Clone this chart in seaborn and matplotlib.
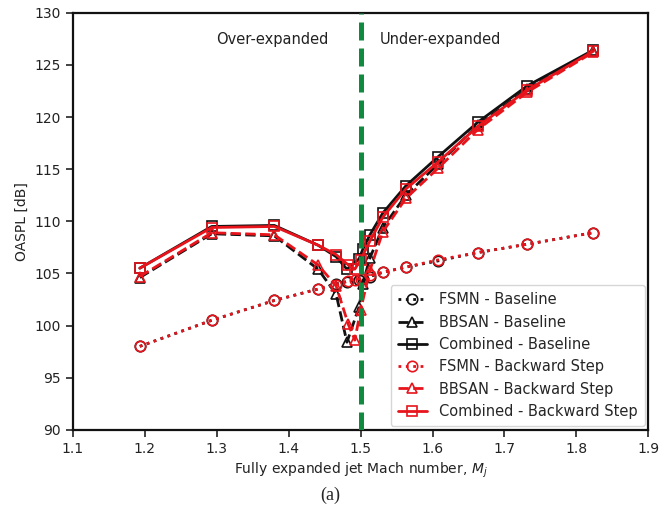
import matplotlib
matplotlib.use("Agg")
import matplotlib.pyplot as plt
import seaborn as sns
import pandas as pd

# ---- data ----
x_base = [1.193, 1.293, 1.380, 1.441, 1.466, 1.481, 1.498, 1.503, 1.513, 1.531, 1.563, 1.608, 1.663, 1.732, 1.823]
fsmn_base = [98.0, 100.5, 102.4, 103.5, 104.0, 104.2, 104.4, 104.5, 104.7, 105.1, 105.6, 106.2, 107.0, 107.8, 108.9]
bbsan_base = [104.6, 108.8, 108.6, 105.4, 103.0, 98.4, 101.8, 104.0, 106.5, 109.4, 112.5, 115.5, 119.2, 122.7, 126.3]
comb_base = [105.5, 109.5, 109.6, 107.7, 106.6, 105.4, 106.4, 107.3, 108.7, 110.8, 113.4, 116.2, 119.5, 123.0, 126.4]

x_bs = [1.193, 1.293, 1.380, 1.441, 1.466, 1.483, 1.492, 1.500, 1.513, 1.531, 1.563, 1.608, 1.663, 1.732, 1.823]
fsmn_bs = [98.0, 100.5, 102.4, 103.5, 103.9, 104.3, 104.4, 104.5, 104.8, 105.1, 105.6, 106.3, 107.0, 107.8, 108.9]
bbsan_bs = [104.7, 108.9, 108.7, 105.8, 103.8, 100.1, 98.6, 101.5, 105.3, 109.0, 112.2, 115.1, 118.8, 122.4, 126.2]
comb_bs = [105.5, 109.4, 109.5, 107.7, 106.8, 105.8, 105.4, 106.3, 108.1, 110.4, 113.1, 115.7, 119.1, 122.6, 126.3]

labels = ["FSMN - Baseline", "BBSAN - Baseline", "Combined - Baseline",
          "FSMN - Backward Step", "BBSAN - Backward Step", "Combined - Backward Step"]

sns.set_style("ticks")
plt.rcParams['font.family'] = ['DejaVu Sans']
plt.rcParams['axes.linewidth'] = 1.6
plt.rcParams['xtick.major.width'] = 1.2
plt.rcParams['ytick.major.width'] = 1.2
plt.rcParams['xtick.major.size'] = 5
plt.rcParams['ytick.major.size'] = 5
plt.rcParams['xtick.color'] = '#222222'
plt.rcParams['ytick.color'] = '#222222'
plt.rcParams['axes.edgecolor'] = '#111111'

fig = plt.figure(figsize=(6.69, 5.11), dpi=100)
ax = fig.add_axes([0.109, 0.159, 0.860, 0.816])

black = '#111111'
red = '#e8141c'

series = [
    (x_base, fsmn_base, black, ':', 'o'),
    (x_base, bbsan_base, black, '--', '^'),
    (x_base, comb_base, black, '-', 's'),
    (x_bs, fsmn_bs, red, ':', 'o'),
    (x_bs, bbsan_bs, red, '--', '^'),
    (x_bs, comb_bs, red, '-', 's'),
]

for (xs, ys, c, ls, mk), lab in zip(series, labels):
    df = pd.DataFrame({"M": xs, "OASPL": ys})
    sns.lineplot(data=df, x="M", y="OASPL", ax=ax, sort=False, estimator=None,
                 color=c, linestyle=ls, linewidth=2.0, marker=mk, markersize=7.5,
                 markerfacecolor='none', markeredgecolor=c, markeredgewidth=1.2,
                 label=lab)

ax.axvline(1.5, color='#108a3e', linewidth=3.6, dashes=(3.6, 1.6), zorder=5)

ax.text(1.377, 127.4, "Over-expanded", ha='center', va='center', fontsize=10.5, color='#222222')
ax.text(1.527, 127.4, "Under-expanded", ha='left', va='center', fontsize=10.5, color='#222222')

ax.set_xlim(1.1, 1.9)
ax.set_ylim(90, 130)
ax.set_xticks([1.1, 1.2, 1.3, 1.4, 1.5, 1.6, 1.7, 1.8, 1.9])
ax.set_yticks(list(range(90, 131, 5)))
ax.tick_params(labelsize=10)
ax.set_xlabel("Fully expanded jet Mach number, $M_j$", fontsize=10, color='#222222')
ax.set_ylabel("OASPL [dB]", fontsize=10, color='#222222')

leg = ax.legend(loc='lower right', fontsize=10.5, frameon=True, fancybox=True,
                borderaxespad=0.25, handlelength=2.0, labelspacing=0.5,
                borderpad=0.5)
leg.get_frame().set_edgecolor('#cccccc')
leg.get_frame().set_linewidth(1.0)

fig.text(0.493, 0.031, "(a)", ha='center', va='center', fontsize=13,
         family='Liberation Serif')

fig.savefig("out.png", dpi=100)
